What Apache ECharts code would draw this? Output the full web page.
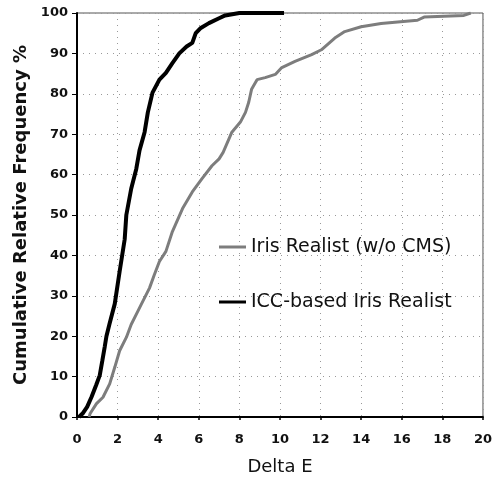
<!DOCTYPE html>
<html>
<head>
<meta charset="utf-8">
<script src="https://cdn.jsdelivr.net/npm/echarts@6/dist/echarts.min.js"></script>
<style>
  html, body { margin: 0; padding: 0; background: #fff; }
  #chart { width: 495px; height: 481px; }
</style>
</head>
<body>
<div id="chart"></div>
<script>
// cumulative curves (Delta E vs cumulative %)
const irisX = [0.6, 0.64, 0.96, 1.28, 1.61, 1.86, 2.1, 2.43, 2.67, 3.0, 3.16, 3.57, 3.81, 4.06, 4.38, 4.7, 5.2, 5.68, 6.16, 6.65, 7.0, 7.2, 7.63, 8.05, 8.3, 8.46, 8.6, 8.87, 9.27, 9.77, 10.09, 10.74, 11.56, 12.04, 12.7, 13.19, 14.0, 14.98, 15.8, 16.77, 17.1, 18.08, 19.06, 19.4]
const irisY = [0, 0.8, 3.3, 4.9, 8.2, 12.3, 16.4, 19.7, 22.9, 26.2, 27.8, 31.9, 35.2, 38.5, 41, 45.9, 51.6, 55.7, 59, 62.2, 63.9, 65.5, 70.5, 73, 75.4, 77.9, 81.1, 83.5, 84, 84.8, 86.5, 88, 89.7, 90.9, 93.8, 95.4, 96.6, 97.4, 97.8, 98.2, 99, 99.2, 99.4, 100]

const iccX = [0.1, 0.3, 0.5, 0.72, 0.95, 1.12, 1.25, 1.37, 1.45, 1.6, 1.86, 2.1, 2.35, 2.43, 2.67, 2.92, 3.08, 3.33, 3.49, 3.72, 4.06, 4.38, 4.7, 5.04, 5.4, 5.68, 5.85, 6.1, 6.5, 7.0, 7.3, 8.0, 10.2]
const iccY = [0, 1, 2.5, 5, 8, 10.3, 14, 17.5, 20, 23, 28, 36, 44, 50, 56.5, 61.4, 66, 70.5, 75.4, 80.3, 83.5, 85.2, 87.6, 90, 91.7, 92.6, 95, 96.3, 97.5, 98.7, 99.4, 100, 100]

const seriesNames = ['Iris Realist (w/o CMS)', 'ICC-based Iris Realist']

const chart = echarts.init(document.getElementById('chart'))

const gridDots = { show: true, lineStyle: { color: '#999', width: 1, type: [1, 5] } }
const tickFont = { color: '#111', fontSize: 13, fontWeight: 'bold', fontFamily: 'DejaVu Sans' }

chart.setOption({
  backgroundColor: '#fff',
  animation: false,
  grid: { left: 77, right: 9, top: 13, bottom: 61, show: true, borderColor: '#555', borderWidth: 1 },
  legend: {
    orient: 'vertical',
    left: 214,
    top: 231,
    icon: 'rect',
    itemWidth: 27,
    itemHeight: 3,
    itemGap: 33,
    textStyle: { fontSize: 19, fontFamily: 'DejaVu Sans', color: '#111', lineHeight: 22 },
    data: seriesNames
  },
  xAxis: {
    type: 'value',
    min: 0,
    max: 20,
    interval: 2,
    name: 'Delta E',
    nameLocation: 'middle',
    nameGap: 41,
    nameTextStyle: { fontSize: 18, fontFamily: 'DejaVu Sans', color: '#111' },
    axisLine: { lineStyle: { color: '#000', width: 2 } },
    axisTick: { show: true, length: 3, lineStyle: { color: '#000', width: 1.5 } },
    axisLabel: Object.assign({ margin: 16 }, tickFont),
    splitLine: gridDots
  },
  yAxis: {
    type: 'value',
    min: 0,
    max: 100,
    interval: 10,
    name: 'Cumulative Relative Frequency %',
    nameLocation: 'middle',
    nameGap: 47,
    nameTextStyle: { fontSize: 18, fontWeight: 'bold', fontFamily: 'DejaVu Sans', color: '#111' },
    axisLine: { lineStyle: { color: '#000', width: 2 } },
    axisTick: { show: true, length: 5, lineStyle: { color: '#000', width: 1 } },
    axisLabel: Object.assign({ margin: 9 }, tickFont),
    splitLine: gridDots
  },
  series: [
    {
      name: seriesNames[0],
      type: 'line',
      symbol: 'none',
      lineStyle: { color: '#7d7d7d', width: 3 },
      itemStyle: { color: '#7d7d7d' },
      data: irisX.map((x, i) => [x, irisY[i]])
    },
    {
      name: seriesNames[1],
      type: 'line',
      symbol: 'none',
      lineStyle: { color: '#000', width: 4 },
      itemStyle: { color: '#000' },
      data: iccX.map((x, i) => [x, iccY[i]])
    }
  ]
})
</script>
</body>
</html>
